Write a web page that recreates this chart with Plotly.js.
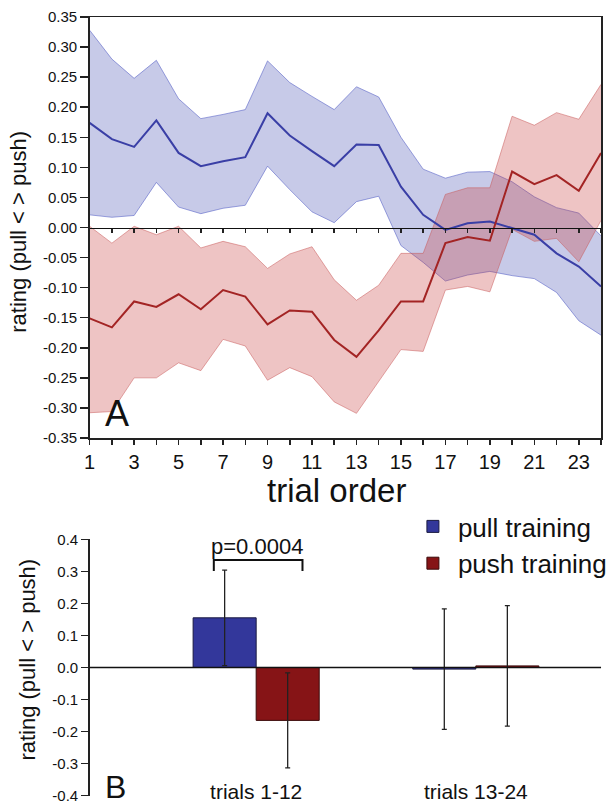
<!DOCTYPE html>
<html>
<head>
<meta charset="utf-8">
<script src="https://cdn.plot.ly/plotly-3.0.1.min.js"></script>
<style>html,body{margin:0;padding:0;background:#fff;}#chart{width:612px;height:805px;}</style>
</head>
<body>
<div id="chart"></div>
<script>
// ---- Panel A data ----
const trials = [1,2,3,4,5,6,7,8,9,10,11,12,13,14,15,16,17,18,19,20,21,22,23,24];
const trialTickText = ['1','','3','','5','','7','','9','','11','','13','','15','','17','','19','','21','','23',''];
const pullMean  = [0.174,0.147,0.134,0.178,0.124,0.102,0.110,0.117,0.190,0.153,0.127,0.102,0.138,0.137,0.068,0.021,-0.004,0.007,0.010,-0.001,-0.012,-0.043,-0.065,-0.098];
const pullUpper = [0.328,0.280,0.248,0.278,0.214,0.181,0.188,0.196,0.277,0.241,0.218,0.196,0.234,0.217,0.150,0.097,0.082,0.092,0.093,0.076,0.051,0.033,0.024,-0.014];
const pullLower = [0.021,0.017,0.020,0.075,0.034,0.023,0.032,0.037,0.102,0.063,0.026,0.008,0.043,0.052,-0.030,-0.058,-0.089,-0.079,-0.073,-0.080,-0.085,-0.108,-0.155,-0.179];
const pushMean  = [-0.151,-0.166,-0.123,-0.132,-0.111,-0.136,-0.104,-0.115,-0.161,-0.138,-0.140,-0.187,-0.215,-0.171,-0.123,-0.123,-0.026,-0.016,-0.022,0.093,0.072,0.087,0.061,0.124];
const pushUpper = [0.002,-0.026,0.002,-0.012,0.002,-0.034,-0.023,-0.032,-0.068,-0.044,-0.032,-0.087,-0.121,-0.096,-0.043,-0.043,0.055,0.066,0.066,0.185,0.170,0.191,0.180,0.238];
const pushLower = [-0.308,-0.306,-0.250,-0.250,-0.225,-0.238,-0.186,-0.197,-0.254,-0.233,-0.248,-0.290,-0.309,-0.257,-0.203,-0.206,-0.104,-0.098,-0.107,-0.003,-0.023,-0.018,-0.057,0.012];
const yTickValsA = [-0.35,-0.30,-0.25,-0.20,-0.15,-0.10,-0.05,0,0.05,0.10,0.15,0.20,0.25,0.30,0.35];
const yTickTextA = ['-0.35','-0.30','-0.25','-0.20','-0.15','-0.10','-0.05','0.00','0.05','0.10','0.15','0.20','0.25','0.30','0.35'];

// ---- Panel B data ----
const groups   = ['trials 1-12','trials 13-24'];
const pullBar  = [0.155,-0.005];
const pullErr  = [0.149,0.188];
const pushBar  = [-0.165,0.005];
const pushErr  = [0.148,0.188];
const yTickValsB = [-0.4,-0.3,-0.2,-0.1,0,0.1,0.2,0.3,0.4];
const yTickTextB = ['-0.4','-0.3','-0.2','-0.1','0.0','0.1','0.2','0.3','0.4'];
const seriesNames = ['pull training','push training'];

const W = 612, H = 805;
const px = v => v / W;
const py = v => 1 - v / H;
const FONT = 'Liberation Sans, Arial, Helvetica, sans-serif';

const blueLine = '#3a3fa6', redLine = '#a32424';
const blueFill = 'rgba(70,80,180,0.30)', redFill = 'rgba(200,60,60,0.30)';
const blueEdge = 'rgba(90,100,200,0.75)', redEdge = 'rgba(200,90,90,0.65)';

const traces = [
  {x: trials, y: pullLower, type: 'scatter', mode: 'lines', line: {color: blueEdge, width: 0.8}, xaxis: 'x', yaxis: 'y', showlegend: false, hoverinfo: 'skip'},
  {x: trials, y: pullUpper, type: 'scatter', mode: 'lines', fill: 'tonexty', fillcolor: blueFill, line: {color: blueEdge, width: 0.8}, xaxis: 'x', yaxis: 'y', showlegend: false, hoverinfo: 'skip'},
  {x: trials, y: pushLower, type: 'scatter', mode: 'lines', line: {color: redEdge, width: 0.8}, xaxis: 'x', yaxis: 'y', showlegend: false, hoverinfo: 'skip'},
  {x: trials, y: pushUpper, type: 'scatter', mode: 'lines', fill: 'tonexty', fillcolor: redFill, line: {color: redEdge, width: 0.8}, xaxis: 'x', yaxis: 'y', showlegend: false, hoverinfo: 'skip'},
  {x: trials, y: pullMean, type: 'scatter', mode: 'lines', line: {color: blueLine, width: 2}, xaxis: 'x', yaxis: 'y', showlegend: false, name: 'pull'},
  {x: trials, y: pushMean, type: 'scatter', mode: 'lines', line: {color: redLine, width: 2}, xaxis: 'x', yaxis: 'y', showlegend: false, name: 'push'},
  // carrier for the zero-line tick axis
  {x: trials, y: pullMean, type: 'scatter', mode: 'lines', line: {width: 0}, opacity: 0, xaxis: 'x3', yaxis: 'y', showlegend: false, hoverinfo: 'skip'},
  // Panel B bars
  {x: groups, y: pullBar, type: 'bar', name: seriesNames[0], xaxis: 'x2', yaxis: 'y2',
   marker: {color: '#33379b', line: {color: '#1a1a40', width: 1}},
   error_y: {type: 'data', array: pullErr, visible: true, color: '#222', thickness: 1.3, width: 2.5}},
  {x: groups, y: pushBar, type: 'bar', name: seriesNames[1], xaxis: 'x2', yaxis: 'y2',
   marker: {color: '#861416', line: {color: '#3a0a0a', width: 1}},
   error_y: {type: 'data', array: pushErr, visible: true, color: '#222', thickness: 1.3, width: 2.5}}
];

const axisCommon = {showgrid: false, zeroline: false, color: '#111', linecolor: '#222', tickcolor: '#222'};

const layout = {
  width: W, height: H,
  margin: {l: 0, r: 0, t: 0, b: 0},
  paper_bgcolor: '#fff', plot_bgcolor: 'rgba(0,0,0,0)',
  font: {family: FONT, color: '#111'},
  barmode: 'group', bargap: 0.426, bargroupgap: 0,
  showlegend: true,
  legend: {x: px(414), y: py(503), xanchor: 'left', yanchor: 'top', font: {size: 26, family: FONT, color: '#111'},
           bgcolor: 'rgba(0,0,0,0)', itemwidth: 40, tracegroupgap: 0, traceorder: 'normal'},
  xaxis: Object.assign({}, axisCommon, {
    domain: [px(91), px(610)], range: [1, 24], anchor: 'y',
    tickmode: 'array', tickvals: trials, ticktext: trialTickText,
    ticks: 'outside', ticklen: 5, tickwidth: 1.5,
    showline: true, linewidth: 1.5, mirror: true,
    tickfont: {size: 20, family: FONT, color: '#111'}, automargin: false
  }),
  yaxis: Object.assign({}, axisCommon, {
    domain: [py(438), py(17)], range: [-0.35, 0.35], anchor: 'x',
    tickmode: 'array', tickvals: yTickValsA, ticktext: yTickTextA,
    ticks: 'outside', ticklen: 8, tickwidth: 1.5,
    showline: true, linewidth: 1.5, mirror: true,
    tickfont: {size: 15, family: FONT, color: '#111'}, automargin: false
  }),
  xaxis3: Object.assign({}, axisCommon, {
    overlaying: 'x', anchor: 'free', position: py(227.7), side: 'bottom',
    range: [1, 24], tickmode: 'array', tickvals: trials,
    ticks: 'outside', ticklen: 4, tickwidth: 1.5, showticklabels: false,
    showline: true, linewidth: 1.6, linecolor: '#111', automargin: false
  }),
  xaxis2: Object.assign({}, axisCommon, {
    domain: [px(91), px(610)], anchor: 'free', position: py(777),
    type: 'category', range: [-0.758, 1.57],
    showline: false, ticks: '', tickfont: {size: 21, family: FONT, color: '#111'}, automargin: false
  }),
  yaxis2: Object.assign({}, axisCommon, {
    domain: [py(795.7), py(539.3)], anchor: 'x2', range: [-0.4, 0.4],
    tickmode: 'array', tickvals: yTickValsB, ticktext: yTickTextB,
    ticks: 'outside', ticklen: 7, tickwidth: 1.5,
    showline: true, linewidth: 1.5,
    tickfont: {size: 15, family: FONT, color: '#111'}, automargin: false
  }),
  shapes: [
    {type: 'line', xref: 'paper', yref: 'y2', x0: px(91), x1: px(610), y0: 0, y1: 0, layer: 'above', line: {color: '#111', width: 1.5}},
    {type: 'path', xref: 'paper', yref: 'paper', layer: 'above',
     path: 'M ' + px(217) + ',' + py(571) + ' L ' + px(217) + ',' + py(560) + ' L ' + px(307) + ',' + py(560) + ' L ' + px(307) + ',' + py(571),
     line: {color: '#111', width: 2}}
  ],
  annotations: [
    {text: 'rating (pull &lt; &gt; push)', xref: 'paper', yref: 'paper', x: px(19), y: py(232), textangle: -90, showarrow: false, xanchor: 'center', yanchor: 'middle', font: {size: 22, family: FONT, color: '#111'}},
    {text: 'rating (pull &lt; &gt; push)', xref: 'paper', yref: 'paper', x: px(27), y: py(660), textangle: -90, showarrow: false, xanchor: 'center', yanchor: 'middle', font: {size: 22, family: FONT, color: '#111'}},
    {text: 'trial order', xref: 'paper', yref: 'paper', x: px(342), y: py(491), showarrow: false, xanchor: 'center', yanchor: 'middle', font: {size: 33, family: FONT, color: '#111'}},
    {text: 'A', xref: 'paper', yref: 'paper', x: px(119), y: py(414), showarrow: false, xanchor: 'center', yanchor: 'middle', font: {size: 36, family: FONT, color: '#111'}},
    {text: 'B', xref: 'paper', yref: 'paper', x: px(117), y: py(787), showarrow: false, xanchor: 'center', yanchor: 'middle', font: {size: 32, family: FONT, color: '#111'}},
    {text: 'p=0.0004', xref: 'paper', yref: 'paper', x: px(261), y: py(546), showarrow: false, xanchor: 'center', yanchor: 'middle', font: {size: 22, family: FONT, color: '#111'}}
  ]
};

Plotly.newPlot('chart', traces, layout, {staticPlot: true, displayModeBar: false});
</script>
</body>
</html>
